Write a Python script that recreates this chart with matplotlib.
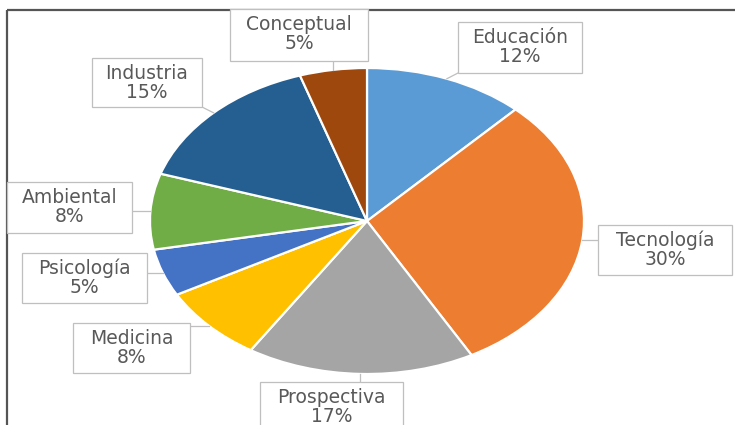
import numpy as np
import matplotlib
matplotlib.use("Agg")
import matplotlib.pyplot as plt
from matplotlib.patches import Rectangle

# Distribution of topics (percent), clockwise from 12 o'clock
categories = ["Educación", "Tecnología", "Prospectiva", "Medicina",
              "Psicología", "Ambiental", "Industria", "Conceptual"]
values = [12, 30, 17, 8, 5, 8, 15, 5]
colors = ["#5B9BD5", "#ED7D31", "#A5A5A5", "#FFC000",
          "#4472C4", "#70AD47", "#255E91", "#9E480E"]

# Callout boxes in pixel coordinates: (left, top, width, height)
boxes = [
    (458, 22, 124, 51),   # Educación
    (598, 225, 134, 50),  # Tecnología
    (260, 382, 143, 52),  # Prospectiva
    (73, 323, 117, 50),   # Medicina
    (22, 253, 125, 50),   # Psicología
    (7, 182, 125, 51),    # Ambiental
    (92, 58, 110, 49),    # Industria
    (230, 9, 138, 52),    # Conceptual
]

W, H = 735, 425
fig = plt.figure(figsize=(W / 100, H / 100), dpi=100)
fig.patch.set_facecolor("white")

# Pie axes covering the (horizontally stretched) ellipse
cx, cy, rx, ry = 367, 221, 217, 153
pie_ax = fig.add_axes([(cx - rx) / W, (H - cy - ry) / H, 2 * rx / W, 2 * ry / H])
wedges, _ = pie_ax.pie(values, colors=colors, startangle=90, counterclock=False,
                       radius=1, wedgeprops=dict(edgecolor="white", linewidth=1.6))
pie_ax.set_aspect("auto")
pie_ax.set_xlim(-1, 1)
pie_ax.set_ylim(-1, 1)
pie_ax.axis("off")

# Overlay axes in pixel coordinates for frame, callouts and leader lines
ov = fig.add_axes([0, 0, 1, 1], zorder=5)
ov.set_xlim(0, W)
ov.set_ylim(H, 0)
ov.axis("off")

# Partial frame (top and left border)
ov.plot([7, W], [10, 10], color="#555555", lw=1.6, solid_capstyle="butt")
ov.plot([7, 7], [10, H], color="#555555", lw=1.6, solid_capstyle="butt")

to_px = pie_ax.transData
for wedge, name, val, (bx, by, bw, bh) in zip(wedges, categories, values, boxes):
    mid = np.deg2rad((wedge.theta1 + wedge.theta2) / 2)
    disp = to_px.transform((np.cos(mid), np.sin(mid)))
    px, py = disp[0] * W / fig.bbox.width, H - disp[1] * H / fig.bbox.height
    # nearest point on the callout box
    qx = min(max(px, bx), bx + bw)
    qy = min(max(py, by), by + bh)
    if np.hypot(px - qx, py - qy) > 2:
        ov.plot([qx, px], [qy, py], color="#BFBFBF", lw=0.9, zorder=4)
    ov.add_patch(Rectangle((bx, by), bw, bh, facecolor="white",
                           edgecolor="#BFBFBF", lw=0.9, zorder=5))
    ov.text(bx + bw / 2, by + 25, f"{name}\n{val}%", ha="center", va="center",
            fontsize=13.5, color="#595959", family="DejaVu Sans",
            linespacing=1.02, zorder=6)

fig.savefig("out.png", dpi=100, facecolor="white")
